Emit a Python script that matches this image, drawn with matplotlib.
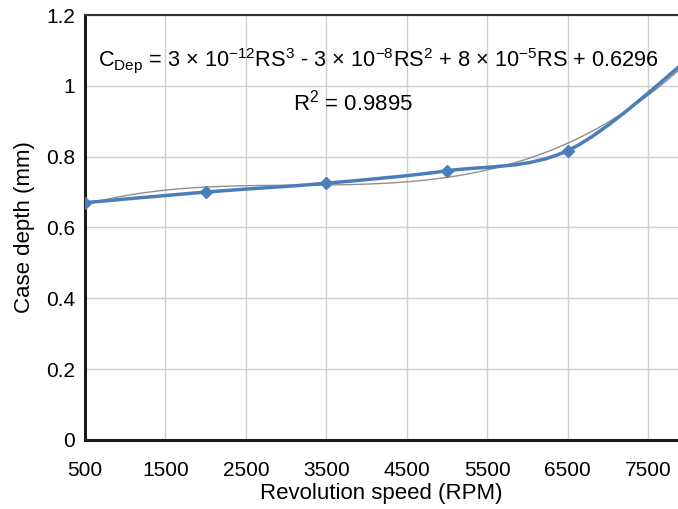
import numpy as np
import matplotlib
matplotlib.use("Agg")
import matplotlib.pyplot as plt
from matplotlib.path import Path
from matplotlib.patches import PathPatch

# data
speed = [500, 2000, 3500, 5000, 6500, 8000]
depth = [0.67, 0.70, 0.725, 0.76, 0.817, 1.075]
xticks = [500, 1500, 2500, 3500, 4500, 5500, 6500, 7500]
yticks = [0, 0.2, 0.4, 0.6, 0.8, 1.0, 1.2]
ytick_labels = ["0", "0.2", "0.4", "0.6", "0.8", "1", "1.2"]

plt.rcParams['font.family'] = ['Liberation Sans', 'DejaVu Sans']
plt.rcParams['mathtext.fontset'] = 'custom'
plt.rcParams['mathtext.rm'] = 'Liberation Sans'

blue = "#4a7ebb"

fig = plt.figure(figsize=(6.78, 5.09), dpi=100)
ax = fig.add_axes([0.1254, 0.1356, 0.8746, 0.8349])


def smooth_path(xs, ys):
    # excel-style smoothed line as cubic bezier segments
    pts = np.column_stack([xs, ys]).astype(float)
    n = len(pts)
    verts = [pts[0]]
    codes = [Path.MOVETO]
    for i in range(n - 1):
        p0 = pts[i - 1] if i > 0 else pts[i]
        p1 = pts[i]
        p2 = pts[i + 1]
        p3 = pts[i + 2] if i + 2 < n else pts[i + 1]
        c1 = p1 + (p2 - p0) / 6.0
        c2 = p2 - (p3 - p1) / 6.0
        verts += [c1, c2, p2]
        codes += [Path.CURVE4] * 3
    return Path(verts, codes)


# cubic trend line
coef = np.polyfit(speed, depth, 3)
xt = np.linspace(500, 8000, 300)
ax.plot(xt, np.polyval(coef, xt), color="#8f8f8f", lw=1.0, zorder=3)

ax.add_patch(PathPatch(smooth_path(speed, depth), facecolor="none",
                       edgecolor=blue, lw=2.5, zorder=4))
ax.plot(speed, depth, linestyle="none", marker="D", ms=6.5,
        color=blue, zorder=5)

ax.set_xlim(500, 7873)
ax.set_ylim(0, 1.2)
ax.set_xticks(xticks)
ax.set_yticks(yticks)
ax.set_yticklabels(ytick_labels)
ax.tick_params(length=0, labelsize=15)
ax.tick_params(axis="x", pad=15)
ax.tick_params(axis="y", pad=7)
ax.grid(True, color="#cfcfcf", lw=1.0)
ax.set_axisbelow(True)

for s in ["left", "bottom"]:
    ax.spines[s].set_linewidth(2.2)
    ax.spines[s].set_color("#1a1a1a")
ax.spines["top"].set_linewidth(1.5)
ax.spines["top"].set_color("#333333")
ax.spines["right"].set_visible(False)

ax.set_xlabel("Revolution speed (RPM)", fontsize=16, labelpad=2)
ax.set_ylabel("Case depth (mm)", fontsize=16, labelpad=8)

ax.text(0.495, 0.893,
        r"C$_{\mathregular{Dep}}$ = 3 × 10$^{\mathregular{-12}}$RS$^{\mathregular{3}}$ - 3 × 10$^{\mathregular{-8}}$RS$^{\mathregular{2}}$ + 8 × 10$^{\mathregular{-5}}$RS + 0.6296",
        transform=ax.transAxes, ha="center", va="center", fontsize=15.7)
ax.text(0.452, 0.793, r"R$^{\mathregular{2}}$ = 0.9895",
        transform=ax.transAxes, ha="center", va="center", fontsize=16)

fig.savefig("out.png", dpi=100)
